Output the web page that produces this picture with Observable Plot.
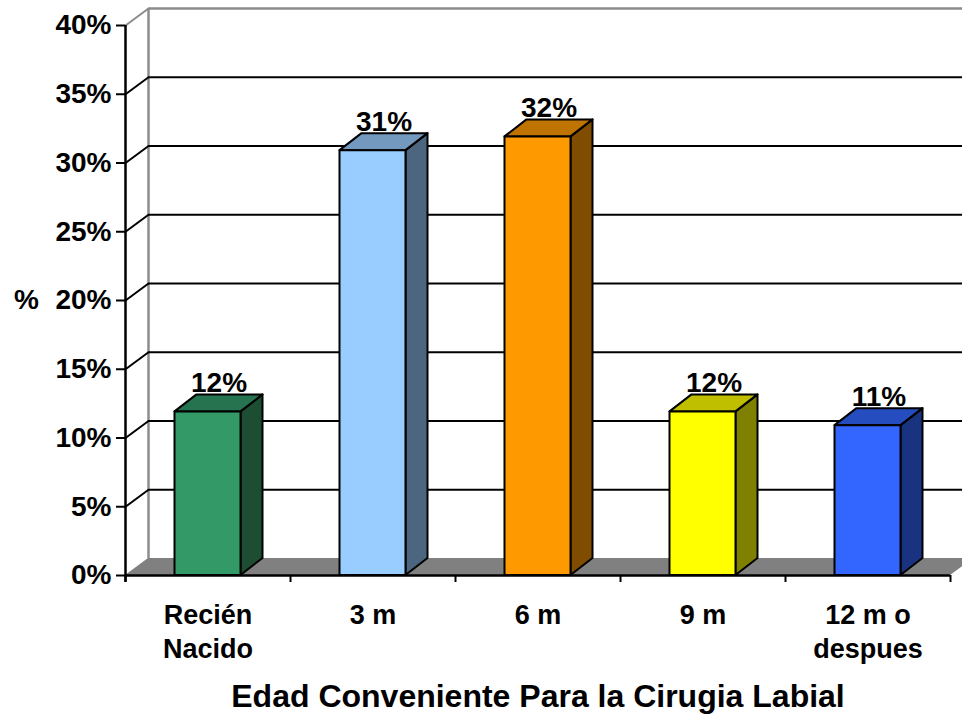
<!DOCTYPE html>
<html>
<head>
<meta charset="utf-8">
<script src="https://cdn.jsdelivr.net/npm/d3@7"></script>
<script src="https://cdn.jsdelivr.net/npm/@observablehq/plot@0.6"></script>
<style>
  html, body { margin: 0; padding: 0; background: #ffffff; }
  #chart { width: 962px; height: 715px; }
</style>
</head>
<body>
<div id="chart"></div>
<script>
// ---- Data ----
const categories = ["Recién\nNacido", "3 m", "6 m", "9 m", "12 m o\ndespues"];
const values = [11.9, 30.9, 31.9, 11.9, 10.9];
const frontColors = ["#339966", "#99ccff", "#ff9900", "#ffff00", "#3366ff"];
const sideColors  = ["#1d4d33", "#4d6680", "#804c00", "#808000", "#1a3380"];
const topColors   = ["#267350", "#7399bf", "#bf7300", "#bfbf00", "#264dbf"];
const yTicks = [0, 5, 10, 15, 20, 25, 30, 35, 40];
const xLabel = "Edad Conveniente Para la Cirugia Labial";
const yLabel = "%";

// ---- Layout (pixels) ----
const W = 962, H = 715;
const mL = 125, mR = 12, mT = 25, mB = 140;
const kx = (W - mL - mR) / categories.length;   // px per category
const ky = (H - mT - mB) / 40;                   // px per percent
const wdx = 23 / kx, wdy = 17 / ky;              // wall depth offset (data units)
const bdx = 22 / kx, bdy = 17 / ky;              // bar depth offset (data units)
const bw = 0.4;                                  // bar width (category units)

const bars = values.map((v, i) => ({i, v, x1: i + 0.5 - bw / 2, x2: i + 0.5 + bw / 2}));
const sidePts = bars.flatMap(b => [
  {i: b.i, x: b.x2, y1: 0, y2: b.v},
  {i: b.i, x: b.x2 + bdx, y1: bdy, y2: b.v + bdy}
]);
const topPts = bars.flatMap(b => [
  {i: b.i, y: b.v, x1: b.x1, x2: b.x2},
  {i: b.i, y: b.v + bdy, x1: b.x1 + bdx, x2: b.x2 + bdx}
]);
const floorPts = [
  {y: 0, x1: 0, x2: categories.length},
  {y: wdy, x1: wdx, x2: categories.length + wdx}
];
const xTicks = d3.range(categories.length + 1);
const font = "'Liberation Sans', Arial, Helvetica, sans-serif";

const plot = Plot.plot({
  width: W, height: H,
  marginLeft: mL, marginRight: mR, marginTop: mT, marginBottom: mB,
  x: {type: "linear", domain: [0, categories.length], axis: null},
  y: {domain: [0, 40], axis: null},
  color: {type: "identity"},
  style: {fontFamily: font, background: "transparent", overflow: "visible"},
  marks: [
    // floor
    Plot.areaX(floorPts, {y: "y", x1: "x1", x2: "x2", fill: "#808080"}),
    // back wall left edge + top
    Plot.ruleX([wdx], {y1: wdy, y2: 40 + wdy, stroke: "#8c8c8c", strokeWidth: 2.5}),
    Plot.ruleY([40], {y: d => d + wdy, x1: () => wdx, x2: () => categories.length + 1, stroke: "#8c8c8c", strokeWidth: 2.5}),
    // gridlines
    Plot.ruleY(yTicks.filter(d => d > 0 && d < 40), {y: d => d + wdy, x1: () => wdx, x2: () => categories.length + 1, stroke: "#000", strokeWidth: 2}),
    Plot.link(yTicks.filter(d => d > 0), {
      x1: () => 0, y1: d => d, x2: () => wdx, y2: d => d + wdy,
      stroke: d => d === 40 ? "#8c8c8c" : "#000", strokeWidth: 2
    }),
    // data labels (behind bars)
    Plot.text(values, {
      x: (d, i) => i + 0.5 + bdx / 2, y: d => d + bdy,
      text: d => Math.round(d) + "%", lineAnchor: "bottom", dy: -3,
      fontSize: 28, fontWeight: "bold", fill: "#000"
    }),
    // bars: sides, tops, fronts
    Plot.areaY(sidePts, {x: "x", y1: "y1", y2: "y2", z: "i", fill: d => sideColors[d.i], stroke: "#000", strokeWidth: 2, strokeLinejoin: "round"}),
    Plot.areaX(topPts, {y: "y", x1: "x1", x2: "x2", z: "i", fill: d => topColors[d.i], stroke: "#000", strokeWidth: 2, strokeLinejoin: "round"}),
    Plot.rect(bars, {x1: "x1", x2: "x2", y1: () => 0, y2: "v", fill: d => frontColors[d.i], stroke: "#000", strokeWidth: 2, strokeLinejoin: "round"}),
    // axes lines and ticks
    Plot.ruleX([0], {y1: -7 / ky, y2: 40, stroke: "#000", strokeWidth: 2.5}),
    Plot.ruleY([0], {x1: () => 0, x2: () => categories.length, stroke: "#000", strokeWidth: 2.5}),
    Plot.ruleY(yTicks, {x1: () => -9 / kx, x2: () => 0, stroke: "#000", strokeWidth: 2}),
    Plot.ruleX(xTicks, {y1: () => -7 / ky, y2: () => 0, stroke: "#000", strokeWidth: 2}),
    // y tick labels
    Plot.text(yTicks, {x: () => 0, y: d => d, text: d => d + "%", textAnchor: "end", dx: -14, fontSize: 28, fontWeight: "bold", fill: "#000"}),
    // x tick labels
    Plot.text(categories, {x: (d, i) => i + 0.5, y: () => 0, text: d => d, lineAnchor: "top", dy: 24, lineHeight: 34 / 27, fontSize: 27, fontWeight: "bold", fill: "#000"}),
    // axis titles
    Plot.text([yLabel], {frameAnchor: "left", textAnchor: "middle", dx: -99, text: d => d, fontSize: 28, fontWeight: "bold", fill: "#000"}),
    Plot.text([xLabel], {frameAnchor: "bottom", lineAnchor: "bottom", dy: 131, text: d => d, fontSize: 32, fontWeight: "bold", fill: "#000"})
  ]
});
document.getElementById("chart").appendChild(plot);
</script>
</body>
</html>
